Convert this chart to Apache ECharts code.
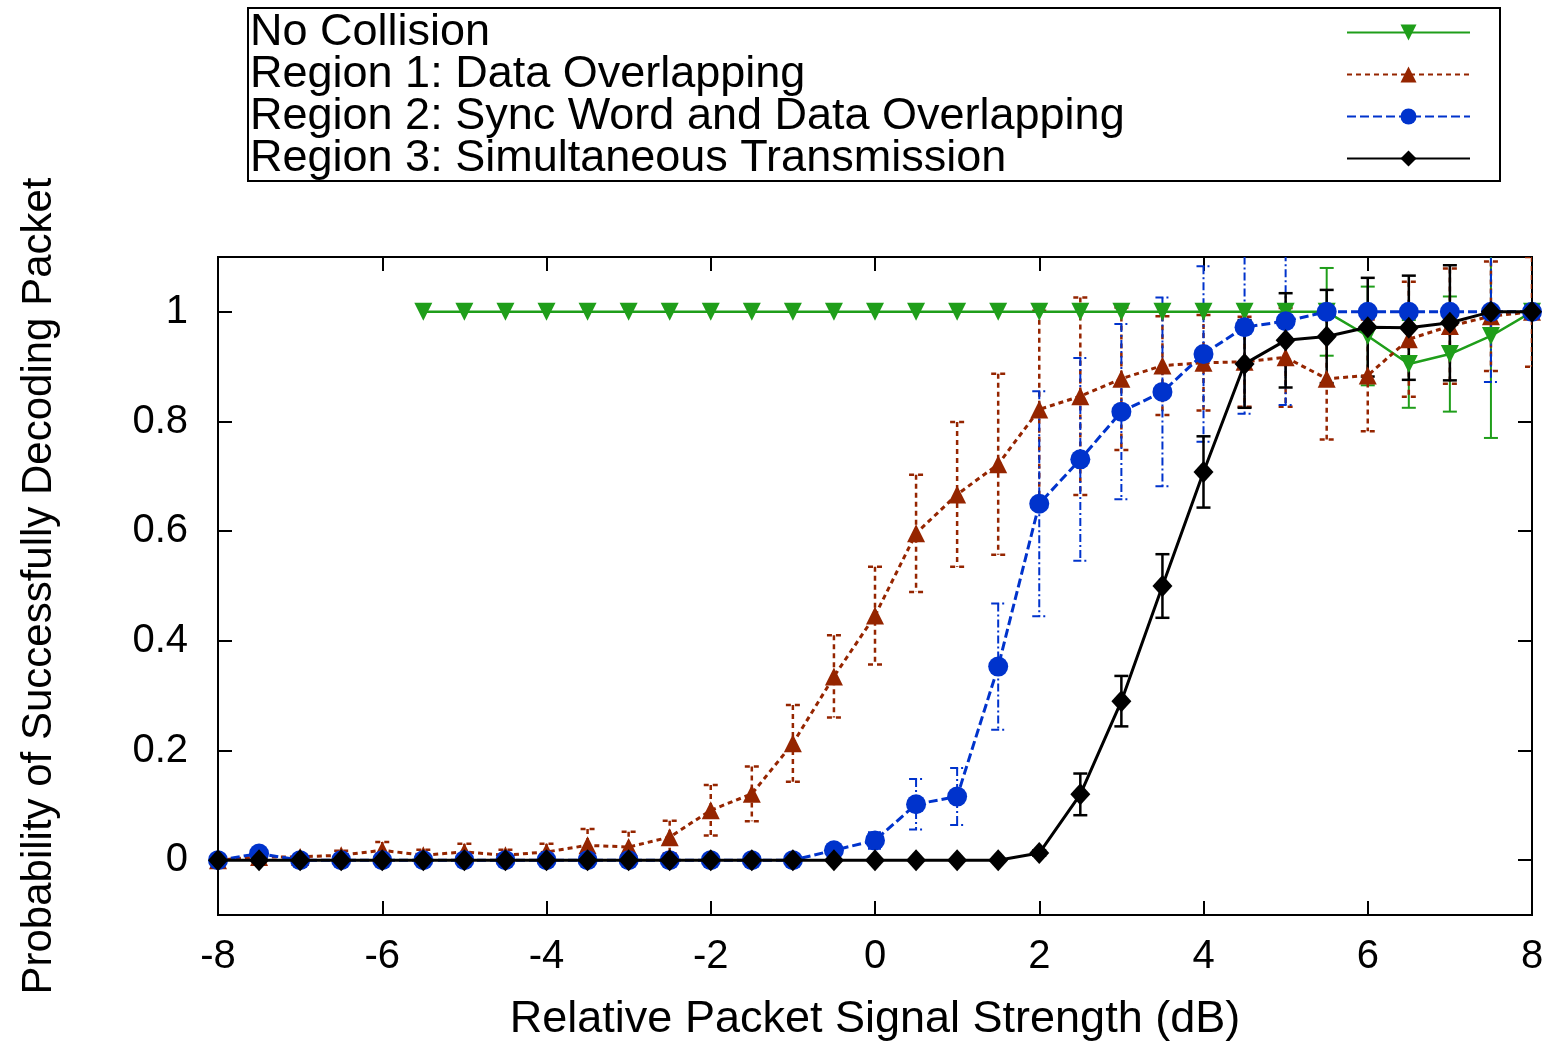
<!DOCTYPE html>
<html>
<head>
<meta charset="utf-8">
<script src="https://cdn.jsdelivr.net/npm/echarts@6/dist/echarts.min.js"></script>
<style>
  html, body { margin: 0; padding: 0; background: #fff; }
  #chart { width: 1554px; height: 1047px; }
</style>
</head>
<body>
<div id="chart"></div>
<script>
// relative signal strength (dB)
var xs = [-8,-7.5,-7,-6.5,-6,-5.5,-5,-4.5,-4,-3.5,-3,-2.5,-2,-1.5,-1,-0.5,0,0.5,1,1.5,2,2.5,3,3.5,4,4.5,5,5.5,6,6.5,7,7.5,8];
var yTicks = [0, 0.2, 0.4, 0.6, 0.8, 1];

var noCollision    = [null,null,null,null,null,1,1,1,1,1,1,1,1,1,1,1,1,1,1,1,1,1,1,1,1,1,1,1,0.956,0.905,0.923,0.956,1];
var noCollisionErr = [0,0,0,0,0,0,0,0,0,0,0,0,0,0,0,0,0,0,0,0,0,0,0,0,0,0,0,0.08,0.09,0.08,0.105,0.186,0];

var region1    = [0,0.006,0.006,0.009,0.018,0.009,0.015,0.009,0.015,0.027,0.024,0.042,0.091,0.121,0.213,0.335,0.446,0.596,0.667,0.722,0.822,0.846,0.878,0.902,0.907,0.909,0.917,0.878,0.884,0.95,0.974,0.992,1];
var region1Err = [0,0.005,0.005,0.008,0.015,0.01,0.015,0.01,0.015,0.03,0.028,0.03,0.046,0.05,0.07,0.075,0.089,0.107,0.132,0.165,0.18,0.18,0.13,0.09,0.087,0.082,0.09,0.111,0.102,0.105,0.105,0.1,0.1];

var region2    = [0,0.012,0,0,0,0,0,0,0,0,0,0,0,0,0,0.018,0.036,0.102,0.116,0.353,0.65,0.731,0.818,0.854,0.923,0.972,0.983,1,1,1,1,1,1];
var region2Err = [0,0.005,0,0,0,0,0,0,0,0,0,0,0,0,0,0.008,0.015,0.046,0.052,0.115,0.205,0.185,0.16,0.172,0.16,0.158,0.153,0,0,0,0,0.128,0];

var region3    = [0,0,0,0,0,0,0,0,0,0,0,0,0,0,0,0,0,0,0,0,0.013,0.12,0.29,0.5,0.708,0.905,0.948,0.955,0.972,0.971,0.98,1,1];
var region3Err = [0,0,0,0,0,0,0,0,0,0,0,0,0,0,0,0,0,0,0,0,0.005,0.038,0.046,0.058,0.065,0.08,0.086,0.085,0.09,0.095,0.105,0,0];

var FONT = '"Liberation Sans", Arial, sans-serif';

function pairs(vals){
    var out = [];
    for (var i = 0; i < xs.length; i++) {
        if (vals[i] != null) out.push([xs[i], vals[i]]);
    }
    return out;
}

function errData(vals, errs){
    var out = [];
    for (var i = 0; i < xs.length; i++) {
        if (vals[i] != null && errs[i] > 0) out.push([xs[i], vals[i] - errs[i], vals[i] + errs[i]]);
    }
    return out;
}

function errSeries(name, vals, errs, color, width, dash){
    return {
        name: name + ' err',
        type: 'custom',
        clip: true,
        z: 1,
        data: errData(vals, errs),
        renderItem: function(params, api){
            var x = api.value(0);
            var lo = api.coord([x, api.value(1)]);
            var hi = api.coord([x, api.value(2)]);
            var w = 7;
            var st = {stroke: color, lineWidth: width, lineDash: dash};
            return {
                type: 'group',
                children: [
                    {type: 'line', shape: {x1: hi[0], y1: hi[1], x2: lo[0], y2: lo[1]}, style: st},
                    {type: 'line', shape: {x1: hi[0] - w, y1: hi[1], x2: hi[0] + w, y2: hi[1]}, style: st},
                    {type: 'line', shape: {x1: lo[0] - w, y1: lo[1], x2: lo[0] + w, y2: lo[1]}, style: st}
                ]
            };
        }
    };
}

var names = ['No Collision', 'Region 1: Data Overlapping', 'Region 2: Sync Word and Data Overlapping', 'Region 3: Simultaneous Transmission'];
var colors = ['#1f9e1a', '#952500', '#0033cc', '#000000'];

var axisLine = {show: true, onZero: false, lineStyle: {color: '#000', width: 2}};
var axisTick = {inside: true, length: 14, lineStyle: {color: '#000', width: 2}};

var chart = echarts.init(document.getElementById('chart'));

chart.setOption({
    animation: false,
    textStyle: {fontFamily: FONT, color: '#000'},
    grid: {
        left: 218,
        right: 22,
        top: 257,
        bottom: 130,
        show: true,
        borderColor: '#000',
        borderWidth: 2
    },
    legend: {
        data: names,
        orient: 'vertical',
        left: 248,
        top: 8,
        align: 'right',
        itemWidth: 123,
        itemHeight: 20,
        itemGap: -3,
        itemStyle: {borderWidth: 0},
        padding: [2, 29, 0, 2],
        borderColor: '#000',
        borderWidth: 2,
        formatter: function(name){ return '{t|' + name + '}'; },
        textStyle: {
            color: '#000',
            fontFamily: FONT,
            fontSize: 45,
            rich: {t: {fontSize: 45, width: 1092, align: 'left', fontFamily: FONT, color: '#000'}}
        }
    },
    xAxis: [
        {
            type: 'value',
            min: -8,
            max: 8,
            interval: 2,
            name: 'Relative Packet Signal Strength (dB)',
            nameLocation: 'middle',
            nameGap: 82,
            nameTextStyle: {fontSize: 45, color: '#000'},
            axisLine: axisLine,
            axisTick: axisTick,
            axisLabel: {fontSize: 40, color: '#000', margin: 22},
            splitLine: {show: false}
        },
        {
            type: 'value',
            position: 'top',
            min: -8,
            max: 8,
            interval: 2,
            axisLine: axisLine,
            axisTick: axisTick,
            axisLabel: {show: false},
            splitLine: {show: false}
        }
    ],
    yAxis: [
        {
            type: 'value',
            min: -0.1,
            max: 1.1,
            name: 'Probability of Successfully Decoding Packet',
            nameLocation: 'middle',
            nameGap: 158,
            nameTextStyle: {fontSize: 42, color: '#000'},
            axisLine: axisLine,
            axisTick: {inside: true, length: 14, customValues: yTicks, lineStyle: {color: '#000', width: 2}},
            axisLabel: {fontSize: 40, color: '#000', margin: 30, customValues: yTicks,
                formatter: function(v){ return String(Math.round(v * 10) / 10); }},
            splitLine: {show: false}
        },
        {
            type: 'value',
            position: 'right',
            min: -0.1,
            max: 1.1,
            axisLine: axisLine,
            axisTick: {inside: true, length: 14, customValues: yTicks, lineStyle: {color: '#000', width: 2}},
            axisLabel: {show: false, customValues: yTicks},
            splitLine: {show: false}
        }
    ],
    series: [
        errSeries(names[0], noCollision, noCollisionErr, colors[0], 2, null),
        errSeries(names[1], region1, region1Err, colors[1], 2.5, [5, 4]),
        errSeries(names[2], region2, region2Err, colors[2], 2, [8, 3, 2, 3]),
        errSeries(names[3], region3, region3Err, colors[3], 2.5, null),
        {
            name: names[0],
            type: 'line',
            data: pairs(noCollision),
            symbol: 'triangle',
            symbolRotate: 180,
            symbolSize: 18,
            z: 3,
            itemStyle: {color: colors[0]},
            lineStyle: {color: colors[0], width: 2.5}
        },
        {
            name: names[1],
            type: 'line',
            data: pairs(region1),
            symbol: 'triangle',
            symbolSize: 18,
            z: 4,
            itemStyle: {color: colors[1]},
            lineStyle: {color: colors[1], width: 3, type: [5, 4]}
        },
        {
            name: names[2],
            type: 'line',
            data: pairs(region2),
            symbol: 'circle',
            symbolSize: 20,
            z: 5,
            itemStyle: {color: colors[2]},
            lineStyle: {color: colors[2], width: 3, type: [9, 4]}
        },
        {
            name: names[3],
            type: 'line',
            data: pairs(region3),
            symbol: 'diamond',
            symbolSize: [20, 22],
            z: 6,
            itemStyle: {color: colors[3]},
            lineStyle: {color: colors[3], width: 3}
        }
    ]
});
</script>
</body>
</html>
